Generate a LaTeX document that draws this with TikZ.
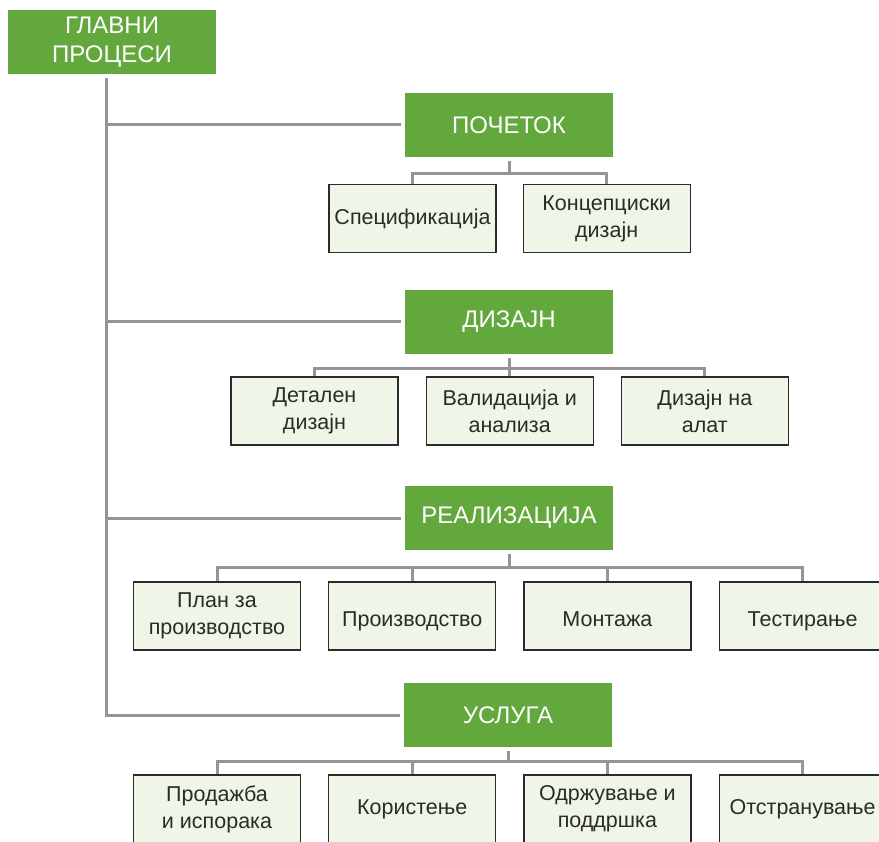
\documentclass[tikz,border=0pt]{standalone}
\usepackage{fontspec}
\setmainfont{Liberation Sans}
\usetikzlibrary{positioning}
\definecolor{procgreen}{HTML}{63A83C}
\definecolor{taskfill}{HTML}{EFF5E7}
\definecolor{taskborder}{HTML}{2B2B2B}
\definecolor{linegray}{HTML}{939598}
\tikzset{
  phase/.style={fill=procgreen, text=white, minimum width=208pt, minimum height=64pt,
    inner sep=0pt, outer sep=4pt, align=center, font=\fontsize{24}{29}\selectfont},
  task/.style={draw=taskborder, line width=1.2pt, fill=taskfill, text=taskborder,
    minimum width=167pt, minimum height=68pt, inner sep=0pt, align=center,
    font=\fontsize{21.5}{27}\selectfont},
  lowtask/.style={task, text height=25pt, text depth=4.5pt},
  link/.style={draw=linegray, line width=3pt},
}
\begin{document}
\begin{tikzpicture}[x=1pt,y=-1pt]
  \useasboundingbox (0,0) rectangle (879,842);
  \clip (0,0) rectangle (879,842);
  % главни процеси
  \node[phase] (root) at (112,42) {ГЛАВНИ\\ПРОЦЕСИ};
  % фази
  \node[phase] (pocetok) at (509,125) {ПОЧЕТОК};
  \node[phase] (dizajn) at (509,322) {ДИЗАЈН};
  \node[phase] (realiz) at (509,518) {РЕАЛИЗАЦИЈА};
  \node[phase] (usluga) at (508,715) {УСЛУГА};
  % почеток
  \node[task] (spec) at (412.5,218.5) {Спецификација};
  \node[task, right=26pt of spec] (konc) {Концепциски\\дизајн};
  % дизајн
  \node[task] (detalen) at (314.5,411) {Детален\\дизајн};
  \node[task, right=27pt of detalen] (valid) {Валидација и\\анализа};
  \node[task, right=27pt of valid] (alat) {Дизајн на\\алат};
  % реализација
  \node[task] (plan) at (217,616) {План за\\производство};
  \node[lowtask, right=27pt of plan] (proizv) {Производство};
  \node[lowtask, right=27pt of proizv] (montaza) {Монтажа};
  \node[lowtask, right=27pt of montaza] (test) {Тестирање};
  % услуга
  \node[task] (prodazba) at (217,809) {Продажба\\и испорака};
  \node[task, right=27pt of prodazba] (koristenje) {Користење};
  \node[task, right=27pt of koristenje] (odrz) {Одржување и\\поддршка};
  \node[task, right=27pt of odrz] (otstr) {Отстранување};
  % стебло
  \coordinate (trunk) at (106,0);
  \draw[link] (root.south -| trunk) |- (usluga.west);
  \foreach \p in {pocetok,dizajn,realiz}
    \draw[link] (trunk |- \p.west) -- (\p.west);
  % врски до задачите
  \path (pocetok.south) -- (pocetok.south |- spec.north) coordinate[pos=.55] (bar1);
  \draw[link] (pocetok.south) -- (bar1);
  \foreach \c in {spec,konc}
    \draw[link] (bar1) -| (\c.north);
  \path (dizajn.south) -- (dizajn.south |- detalen.north) coordinate[pos=.55] (bar2);
  \draw[link] (dizajn.south) -- (bar2);
  \foreach \c in {detalen,valid,alat}
    \draw[link] (bar2) -| (\c.north);
  \path (realiz.south) -- (realiz.south |- plan.north) coordinate[pos=.5] (bar3);
  \draw[link] (realiz.south) -- (bar3);
  \foreach \c in {plan,proizv,montaza,test}
    \draw[link] (bar3) -| (\c.north);
  \path (usluga.south) -- (usluga.south |- prodazba.north) coordinate[pos=.45] (bar4);
  \draw[link] (usluga.south) -- (bar4);
  \foreach \c in {prodazba,koristenje,odrz,otstr}
    \draw[link] (bar4) -| (\c.north);
\end{tikzpicture}
\end{document}
